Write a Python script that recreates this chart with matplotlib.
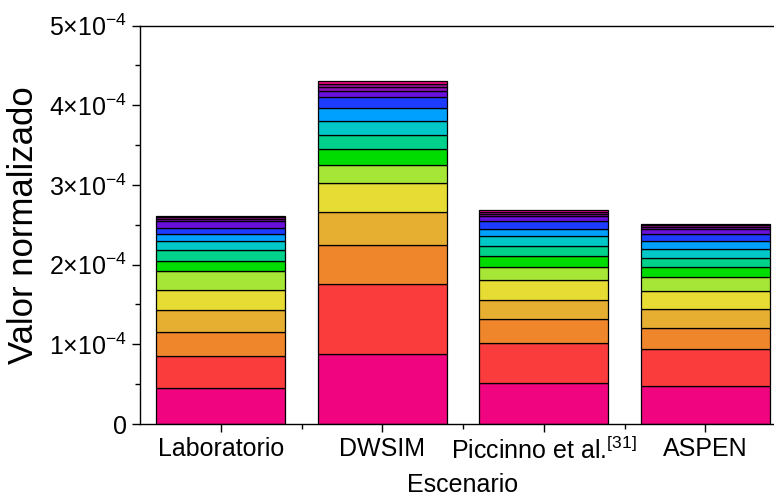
import matplotlib.pyplot as plt
import numpy as np
from matplotlib import rc

rc('font', family='Liberation Sans')
rc('mathtext', fontset='custom', rm='Liberation Sans', it='Liberation Sans', bf='Liberation Sans')

escenarios = ['Laboratorio', 'DWSIM', 'Piccinno et al.$^{[31]}$', 'ASPEN']

# segment heights, bottom to top, in units of 1e-4
lab = [0.447, 0.409, 0.293, 0.283, 0.247, 0.235, 0.129, 0.134, 0.116, 0.088, 0.081, 0.082, 0.031, 0.016, 0.016]
dwsim = [0.877, 0.874, 0.501, 0.408, 0.364, 0.230, 0.192, 0.176, 0.175, 0.163, 0.147, 0.066, 0.054, 0.034, 0.041]
piccinno = [0.518, 0.493, 0.305, 0.246, 0.243, 0.171, 0.133, 0.130, 0.117, 0.091, 0.101, 0.062, 0.030, 0.021, 0.021]
aspen = [0.476, 0.460, 0.271, 0.234, 0.230, 0.175, 0.125, 0.113, 0.113, 0.100, 0.090, 0.060, 0.030, 0.015, 0.015]

colors = ['#F0047F', '#FA3C3C', '#F0862C', '#E6AF32', '#E6DC34', '#A6E636',
          '#00DC00', '#00D28C', '#00C8C8', '#00A0FF', '#1E3CFF', '#6A10DC',
          '#8C10B8', '#A0109A', '#F0047F']

data = np.array([lab, dwsim, piccinno, aspen]) * 1e-4

fig = plt.figure(figsize=(7.74, 4.99), dpi=100)
ax = fig.add_axes([140/774, 75/499, 646/774, 398.5/499])

x = np.arange(len(escenarios))
bottom = np.zeros(len(escenarios))
for i in range(data.shape[1]):
    ax.bar(x, data[:, i], width=0.8, bottom=bottom, color=colors[i],
           edgecolor='black', linewidth=0.9)
    bottom += data[:, i]

ax.set_xlim(-0.5, 3.5)
ax.set_ylim(0, 5e-4)

yt = [0, 1e-4, 2e-4, 3e-4, 4e-4, 5e-4]
ylabels = ['0'] + [r'%d$\times$10$^{-4}$' % k for k in range(1, 6)]
ax.set_yticks(yt, ylabels)
ax.set_yticks(np.arange(0.5e-4, 5e-4, 1e-4), minor=True)
ax.set_xticks(x, escenarios)
ax.set_xticks(x[:-1] + 0.5, minor=True)

ax.tick_params(axis='both', which='major', direction='out', length=6, width=1, labelsize=18)
ax.tick_params(axis='both', which='minor', direction='out', length=3.5, width=1)

for s in ax.spines.values():
    s.set_linewidth(1)
ax.spines['right'].set_visible(False)

ax.set_ylabel('Valor normalizado', fontsize=25, labelpad=6)
ax.set_xlabel('Escenario', fontsize=18, labelpad=6)

plt.savefig('out.png', dpi=100)
